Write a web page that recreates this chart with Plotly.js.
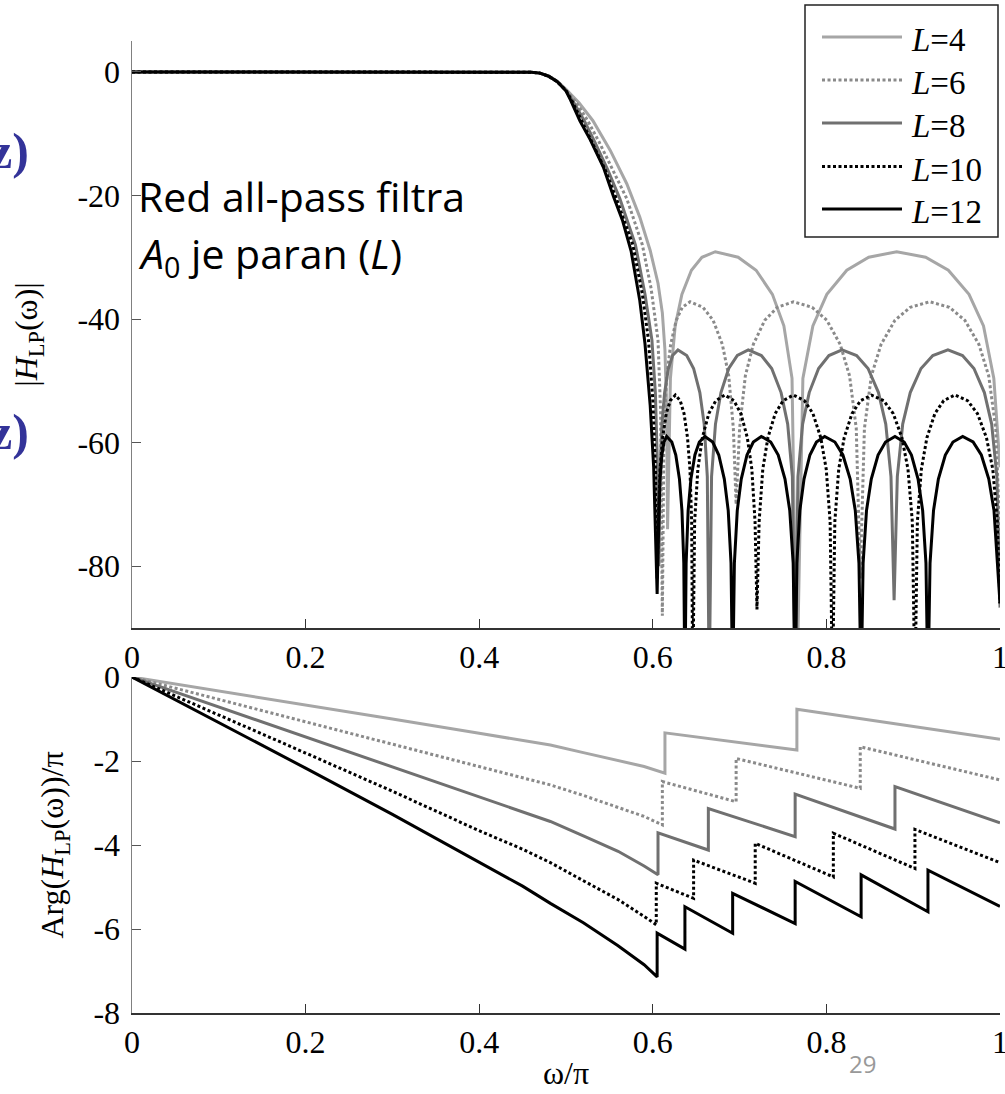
<!DOCTYPE html>
<html><head><meta charset="utf-8">
<script src="https://cdn.plot.ly/plotly-3.0.1.min.js"></script>
<style>html,body{margin:0;padding:0;background:#fff;}#chart{width:1005px;height:1094px;}</style>
</head><body><div id="chart"></div>
<script>
// ---- data ----
const seriesNames = ['L=4', 'L=6', 'L=8', 'L=10', 'L=12'];
const seriesLabels = ['<i>L</i>=4', '<i>L</i>=6', '<i>L</i>=8', '<i>L</i>=10', '<i>L</i>=12'];

// magnitude |H_LP| in dB vs omega/pi
const magX_L4 = [0,0.1,0.2,0.3,0.4,0.44,0.46,0.47,0.48,0.49,0.50,0.515,0.531,0.551,0.570,0.585,0.597,0.606,0.611,0.614,0.616,0.617,
  0.6203,0.6258,0.6335,0.6445,0.6566,0.672,0.6983,0.719,0.7378,0.751,0.7604,0.766,
  0.7729,0.7844,0.8005,0.8235,0.8488,0.881,0.9143,0.9405,0.9643,0.981,0.9929,1.0];
const magY_L4 = [0,0,0,0,0,0,-0.05,-0.2,-0.65,-1.5,-2.8,-5,-7.9,-12.7,-18.1,-23.5,-28.9,-34.2,-39,-45,-55,-74,
  -49.6,-41.1,-36.0,-32.1,-30.0,-29.1,-30.0,-32.1,-36.0,-41.1,-49.6,-100,
  -49.6,-41.1,-36.0,-32.1,-30.0,-29.1,-30.0,-32.1,-36.0,-41.1,-49.6,-64];

const magX_L6 = [0,0.1,0.2,0.3,0.4,0.44,0.46,0.47,0.48,0.49,0.50,0.512,0.525,0.538,0.554,0.570,0.588,0.598,0.606,0.609,0.611,
  0.6129,0.6161,0.6206,0.627,0.634,0.643,0.6578,0.6695,0.6801,0.6875,0.6928,0.696,
  0.700,0.7066,0.7158,0.729,0.7435,0.762,0.7836,0.8005,0.8159,0.8267,0.8344,0.839,
  0.8438,0.8518,0.863,0.879,0.8966,0.919,0.9417,0.9595,0.9757,0.987,0.9951,1.0];
const magY_L6 = [0,0,0,0,0,0,-0.05,-0.2,-0.7,-1.55,-2.9,-5,-7.9,-11.3,-15.8,-20.5,-28,-35,-43.4,-55,-88,
  -57.7,-49.2,-44.1,-40.2,-38.1,-37.2,-38.1,-40.2,-44.1,-49.2,-57.7,-70,
  -57.7,-49.2,-44.1,-40.2,-38.1,-37.2,-38.1,-40.2,-44.1,-49.2,-57.7,-82,
  -57.7,-49.2,-44.1,-40.2,-38.1,-37.2,-38.1,-40.2,-44.1,-49.2,-57.7,-75];

const magX_L8 = [0,0.1,0.2,0.3,0.4,0.44,0.46,0.47,0.48,0.49,0.50,0.51,0.521,0.533,0.548,0.562,0.580,0.591,0.599,0.603,0.605,0.607,
  0.6083,0.6105,0.6136,0.618,0.6228,0.629,0.6391,0.647,0.6542,0.6592,0.6628,0.665,
  0.6677,0.6722,0.6785,0.6875,0.6974,0.710,0.7251,0.737,0.7478,0.7554,0.7608,0.764,
  0.7672,0.7726,0.7802,0.791,0.8029,0.818,0.8348,0.848,0.860,0.8684,0.8744,0.878,
  0.8817,0.8879,0.8966,0.909,0.9226,0.940,0.9568,0.970,0.982,0.9904,0.9964,1.0];
const magY_L8 = [0,0,0,0,0,0,-0.05,-0.2,-0.7,-1.6,-3,-5.2,-7.9,-11.3,-15.8,-20.5,-28,-36,-43.4,-52,-62,-80,
  -65.5,-57,-51.9,-48,-45.9,-45,-45.9,-48,-51.9,-57,-65.5,-100,
  -65.5,-57,-51.9,-48,-45.9,-45,-45.9,-48,-51.9,-57,-65.5,-100,
  -65.5,-57,-51.9,-48,-45.9,-45,-45.9,-48,-51.9,-57,-65.5,-85.5,
  -65.5,-57,-51.9,-48,-45.9,-45,-45.9,-48,-51.9,-57,-65.5,-86.7];

const magX_L10 = [0,0.1,0.2,0.3,0.4,0.44,0.46,0.47,0.48,0.49,0.50,0.508,0.518,0.530,0.545,0.558,0.577,0.588,0.595,0.600,0.603,0.605,
  0.6063,0.6084,0.6113,0.6155,0.6201,0.626,0.6316,0.636,0.640,0.6428,0.6448,0.646,
  0.6482,0.6519,0.6571,0.6645,0.6726,0.683,0.6934,0.7015,0.7089,0.7141,0.7178,0.720,
  0.7225,0.7267,0.7326,0.741,0.7502,0.762,0.7746,0.7845,0.7935,0.7998,0.8043,0.807,
  0.8097,0.8142,0.8205,0.8295,0.8394,0.852,0.866,0.877,0.887,0.894,0.899,0.902,
  0.9048,0.9094,0.9158,0.925,0.9351,0.948,0.9626,0.974,0.9844,0.9917,0.9969,1.0];
const magY_L10 = [0,0,0,0,0,0,-0.05,-0.2,-0.7,-1.6,-3,-5,-7.9,-11.3,-15.8,-20.5,-28,-36,-43.4,-53,-64,-82,
  -72.8,-64.3,-59.2,-55.3,-53.2,-52.3,-53.2,-55.3,-59.2,-64.3,-72.8,-100,
  -72.8,-64.3,-59.2,-55.3,-53.2,-52.3,-53.2,-55.3,-59.2,-64.3,-72.8,-87,
  -72.8,-64.3,-59.2,-55.3,-53.2,-52.3,-53.2,-55.3,-59.2,-64.3,-72.8,-100,
  -72.8,-64.3,-59.2,-55.3,-53.2,-52.3,-53.2,-55.3,-59.2,-64.3,-72.8,-100,
  -72.8,-64.3,-59.2,-55.3,-53.2,-52.3,-53.2,-55.3,-59.2,-64.3,-72.8,-86];

const magX_L12 = [0,0.1,0.2,0.3,0.4,0.44,0.46,0.47,0.48,0.49,0.50,0.505,0.516,0.528,0.543,0.555,0.565,0.575,0.585,0.591,0.597,0.601,0.605,
  0.6057,0.6068,0.6083,0.6105,0.6129,0.616,0.6219,0.6265,0.6307,0.6336,0.6357,0.637,
  0.6384,0.6407,0.6439,0.6485,0.6536,0.660,0.669,0.676,0.6824,0.6869,0.6901,0.692,
  0.694,0.6973,0.7019,0.7085,0.7158,0.725,0.7359,0.7445,0.7523,0.7578,0.7617,0.764,
  0.766,0.7694,0.7742,0.781,0.7885,0.798,0.8098,0.819,0.8274,0.8333,0.8375,0.840,
  0.8423,0.8462,0.8517,0.8595,0.8681,0.879,0.8896,0.898,0.9056,0.9109,0.9147,0.917,
  0.9194,0.9234,0.929,0.937,0.9458,0.957,0.969,0.9785,0.9871,0.9931,0.9974,1.0];
const magY_L12 = [0,0,0,0,0,0,-0.05,-0.2,-0.7,-1.6,-3.1,-4.5,-7.9,-11,-15.4,-20.3,-24,-29,-37,-44,-54,-64,-84.5,
  -79.5,-71,-65.9,-62,-59.9,-59,-59.9,-62,-65.9,-71,-79.5,-100,
  -79.5,-71,-65.9,-62,-59.9,-59,-59.9,-62,-65.9,-71,-79.5,-100,
  -79.5,-71,-65.9,-62,-59.9,-59,-59.9,-62,-65.9,-71,-79.5,-100,
  -79.5,-71,-65.9,-62,-59.9,-59,-59.9,-62,-65.9,-71,-79.5,-100,
  -79.5,-71,-65.9,-62,-59.9,-59,-59.9,-62,-65.9,-71,-79.5,-100,
  -79.5,-71,-65.9,-62,-59.9,-59,-59.9,-62,-65.9,-71,-79.5,-86];

// phase Arg(H_LP)/pi vs omega/pi
const phX_L4 = [0,0.1,0.2,0.3,0.4,0.45,0.482,0.52,0.56,0.59,0.614,0.614,0.766,0.766,1.0];
const phY_L4 = [0,-0.33,-0.66,-1.0,-1.34,-1.5,-1.62,-1.8,-1.98,-2.13,-2.29,-1.33,-1.74,-0.77,-1.48];
const phX_L6 = [0,0.1,0.2,0.3,0.4,0.45,0.482,0.52,0.56,0.59,0.611,0.611,0.696,0.696,0.839,0.839,1.0];
const phY_L6 = [0,-0.53,-1.06,-1.59,-2.13,-2.39,-2.57,-2.82,-3.1,-3.32,-3.52,-2.49,-2.97,-1.94,-2.65,-1.66,-2.45];
const phX_L8 = [0,0.1,0.2,0.3,0.4,0.45,0.482,0.52,0.56,0.59,0.606,0.606,0.664,0.664,0.764,0.764,0.879,0.879,1.0];
const phY_L8 = [0,-0.71,-1.42,-2.13,-2.85,-3.2,-3.44,-3.78,-4.15,-4.5,-4.71,-3.71,-4.12,-3.13,-3.80,-2.79,-3.62,-2.61,-3.47];
const phX_L10 = [0,0.1,0.2,0.3,0.4,0.45,0.482,0.52,0.56,0.59,0.604,0.604,0.647,0.647,0.718,0.718,0.808,0.808,0.902,0.902,1.0];
const phY_L10 = [0,-0.9,-1.81,-2.72,-3.66,-4.1,-4.42,-4.85,-5.3,-5.7,-5.90,-4.91,-5.27,-4.36,-4.91,-3.96,-4.76,-3.72,-4.56,-3.63,-4.42];
const phX_L12 = [0,0.1,0.2,0.3,0.4,0.45,0.482,0.52,0.56,0.59,0.605,0.605,0.637,0.637,0.692,0.692,0.764,0.764,0.840,0.840,0.917,0.917,1.0];
const phY_L12 = [0,-1.08,-2.17,-3.27,-4.42,-4.98,-5.39,-5.85,-6.4,-6.85,-7.14,-6.1,-6.48,-5.47,-6.10,-5.15,-5.87,-4.87,-5.71,-4.71,-5.59,-4.60,-5.46];

// axis ticks
const xTickVals = [0, 0.2, 0.4, 0.6, 0.8, 1];
const xTickText = ['0', '0.2', '0.4', '0.6', '0.8', '1'];
const magTickVals = [-80, -60, -40, -20, 0];
const magTickText = ['-80', '-60', '-40', '-20', '0'];
const phTickVals = [-8, -6, -4, -2, 0];
const phTickText = ['-8', '-6', '-4', '-2', '0'];

// ---- styles ----
const styles = [
  {color: '#a6a6a6', dash: 'solid'},
  {color: '#8a8a8a', dash: '3px,2.5px'},
  {color: '#707070', dash: 'solid'},
  {color: '#000000', dash: '3px,2.5px'},
  {color: '#000000', dash: 'solid'}
];
const magX = [magX_L4, magX_L6, magX_L8, magX_L10, magX_L12];
const magY = [magY_L4, magY_L6, magY_L8, magY_L10, magY_L12];
const phX = [phX_L4, phX_L6, phX_L8, phX_L10, phX_L12];
const phY = [phY_L4, phY_L6, phY_L8, phY_L10, phY_L12];

const traces = [];
seriesNames.forEach((n, i) => {
  traces.push({x: magX[i], y: magY[i], xaxis: 'x', yaxis: 'y', type: 'scatter', mode: 'lines', name: n,
    line: {color: styles[i].color, dash: styles[i].dash, width: 3}, showlegend: false});
});
seriesNames.forEach((n, i) => {
  traces.push({x: phX[i], y: phY[i], xaxis: 'x2', yaxis: 'y2', type: 'scatter', mode: 'lines', name: n,
    line: {color: styles[i].color, dash: styles[i].dash, width: 3}, showlegend: false});
});

const W = 1005, H = 1094, ML = 132, MR = 5, MT = 41, MB = 81;
const PW = W - ML - MR, PH = H - MT - MB;
const px2x = p => (p - ML) / PW;
const py2y = p => (H - MB - p) / PH;

const SERIF = 'Liberation Serif';
function axisBase(extra) {
  return Object.assign({showgrid: false, zeroline: false, showline: true, ticks: 'inside', ticklen: 9,
    tickwidth: 1, tickfont: {family: SERIF, size: 32, color: '#000'}, ticklabeloverflow: 'allow'}, extra);
}

const shapes = [];
const annotations = [];
// legend box
shapes.push({type: 'rect', xref: 'paper', yref: 'paper', x0: px2x(805), x1: px2x(998), y0: py2y(237), y1: py2y(5),
  line: {color: '#222', width: 1.5}, fillcolor: '#fff', layer: 'above'});
const legRowsPx = [37, 80, 123, 166.5, 209];
seriesLabels.forEach((lab, i) => {
  shapes.push({type: 'line', xref: 'paper', yref: 'paper', x0: px2x(822), x1: px2x(902),
    y0: py2y(legRowsPx[i]), y1: py2y(legRowsPx[i]), line: {color: styles[i].color, dash: styles[i].dash, width: 3}, layer: 'above'});
  annotations.push({xref: 'paper', yref: 'paper', x: px2x(909), y: py2y(legRowsPx[i] + 3), xanchor: 'left', yanchor: 'middle',
    text: lab, showarrow: false, font: {family: SERIF, size: 33, color: '#000'}});
});
annotations.push({xref: 'paper', yref: 'paper', x: px2x(136), y: py2y(196), xanchor: 'left', yanchor: 'middle',
  text: 'Red all-pass filtra', showarrow: false, font: {family: 'Open Sans', size: 41, color: '#000'}});
annotations.push({xref: 'paper', yref: 'paper', x: px2x(136), y: py2y(255), xanchor: 'left', yanchor: 'middle',
  text: '<i>A</i><sub>0</sub> je paran (<i>L</i>)', showarrow: false, font: {family: 'Open Sans', size: 41, color: '#000'}});
[151, 432].forEach(yy => annotations.push({xref: 'paper', yref: 'paper', x: px2x(31), y: py2y(yy), xanchor: 'right', yanchor: 'middle',
  text: '<b>z)</b>', showarrow: false, font: {family: SERIF, size: 50, color: '#333399'}}));
annotations.push({xref: 'paper', yref: 'paper', x: px2x(862), y: py2y(1063), xanchor: 'center', yanchor: 'middle',
  text: '29', showarrow: false, font: {family: 'Open Sans', size: 24, color: '#999'}});

const layout = {
  width: W, height: H, margin: {l: ML, r: MR, t: MT, b: MB},
  paper_bgcolor: '#fff', plot_bgcolor: '#fff', showlegend: false,
  font: {family: SERIF, size: 32, color: '#000'},
  xaxis: axisBase({domain: [0, 1], anchor: 'y', range: [0, 1], tickvals: xTickVals, ticktext: xTickText,
    linecolor: '#333', tickcolor: '#333', linewidth: 1.5, ticklabelstandoff: 0}),
  yaxis: axisBase({domain: [py2y(628), 1], anchor: 'x', range: [-90, 5], tickvals: magTickVals, ticktext: magTickText,
    linecolor: '#808080', tickcolor: '#555', linewidth: 1.5, ticklabelstandoff: 4,
    title: {text: '|<i>H</i><sub>LP</sub>(ω)|', font: {family: SERIF, size: 32}, standoff: 30}}),
  xaxis2: axisBase({domain: [0, 1], anchor: 'y2', range: [0, 1], tickvals: xTickVals, ticktext: xTickText,
    linecolor: '#333', tickcolor: '#333', linewidth: 1.5, ticklabelstandoff: 0,
    title: {text: 'ω/π', font: {family: SERIF, size: 32}, standoff: 2}}),
  yaxis2: axisBase({domain: [0, py2y(677)], anchor: 'x2', range: [-8, 0], tickvals: phTickVals, ticktext: phTickText,
    linecolor: '#808080', tickcolor: '#555', linewidth: 1.5, ticklabelstandoff: 4,
    title: {text: 'Arg(<i>H</i><sub>LP</sub>(ω))/π', font: {family: SERIF, size: 32}, standoff: 20}}),
  shapes: shapes, annotations: annotations
};
Plotly.newPlot('chart', traces, layout, {displayModeBar: false, staticPlot: true});
</script></body></html>
